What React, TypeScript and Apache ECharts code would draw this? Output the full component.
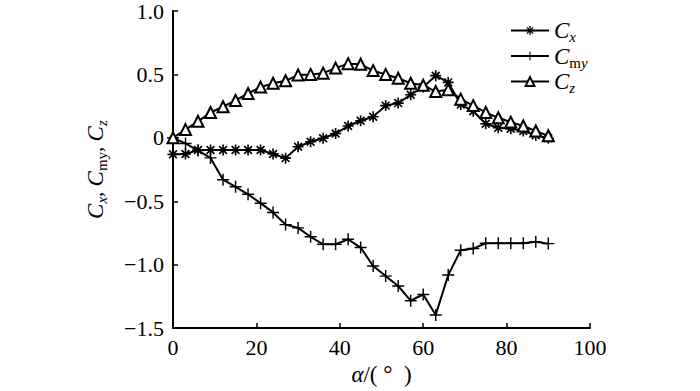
import React, { useEffect, useRef } from "react";
import * as echarts from "echarts";

const alpha = [0, 3, 6, 9, 12, 15, 18, 21, 24, 27, 30, 33, 36, 39, 42, 45, 48, 51, 54, 57, 60, 63, 66, 69, 72, 75, 78, 81, 84, 87, 90];
const cx = [-0.13, -0.127, -0.096, -0.096, -0.096, -0.096, -0.096, -0.096, -0.127, -0.16, -0.07, -0.031, -0.003, 0.034, 0.093, 0.135, 0.166, 0.254, 0.274, 0.34, 0.4, 0.49, 0.437, 0.262, 0.21, 0.111, 0.08, 0.072, 0.054, 0.021, -0.003];
const cmy = [0, -0.044, -0.1, -0.158, -0.33, -0.386, -0.445, -0.515, -0.588, -0.684, -0.71, -0.78, -0.839, -0.839, -0.8, -0.865, -1.01, -1.09, -1.168, -1.284, -1.235, -1.396, -1.082, -0.886, -0.873, -0.831, -0.831, -0.831, -0.831, -0.82, -0.834];
const cz = [0, 0.065, 0.13, 0.2, 0.245, 0.295, 0.35, 0.4, 0.43, 0.45, 0.495, 0.5, 0.51, 0.55, 0.585, 0.58, 0.53, 0.5, 0.47, 0.43, 0.415, 0.365, 0.38, 0.305, 0.254, 0.2, 0.158, 0.124, 0.093, 0.054, 0.016];
const seriesNames = ["Cx", "Cmy", "Cz"];
const xTicks = [0, 20, 40, 60, 80, 100];

const FONT = "'Liberation Serif', 'Times New Roman', serif";

const STAR =
  "path://M0,8.5 L20,8.5 L20,11.5 L0,11.5 Z M8.5,0 L11.5,0 L11.5,20 L8.5,20 Z " +
  "M3.99,1.87 L18.13,16.01 L16.01,18.13 L1.87,3.99 Z " +
  "M18.13,3.99 L3.99,18.13 L1.87,16.01 L16.01,1.87 Z";
const PLUS = "path://M8.8,0 L11.2,0 L11.2,8.8 L20,8.8 L20,11.2 L11.2,11.2 L11.2,20 L8.8,20 L8.8,11.2 L0,11.2 L0,8.8 L8.8,8.8 Z";

export default function App() {
  const ref = useRef<HTMLDivElement>(null);
  useEffect(() => {
    if (!ref.current) return;
    const chart = echarts.init(ref.current, null, { renderer: "svg" });
    const mk = (arr: number[]) => alpha.map((a, i) => [a, arr[i]]);
    const rich = {
      c: { fontFamily: FONT, fontStyle: "italic", fontSize: 23, color: "#000", lineHeight: 28 },
      si: { fontFamily: FONT, fontStyle: "italic", fontSize: 15, color: "#000", lineHeight: 14, verticalAlign: "bottom" },
      sr: { fontFamily: FONT, fontSize: 15, color: "#000", lineHeight: 14, verticalAlign: "bottom" },
      t: { fontFamily: FONT, fontSize: 21, color: "#000", lineHeight: 28 },
      a: { fontFamily: FONT, fontStyle: "italic", fontSize: 23, color: "#000" },
      n: { fontFamily: FONT, fontSize: 23, color: "#000" },
    };
    const legendLabel: Record<string, string> = {
      Cx: "{c|C}{si|x}",
      Cmy: "{c|C}{sr|m}{si|y}",
      Cz: "{c|C}{si|z}",
    };
    chart.setOption({
      animation: false,
      backgroundColor: "#fff",
      grid: { left: 173, right: 110, top: 8, bottom: 61, containLabel: false },
      legend: {
        orient: "vertical",
        left: 505,
        top: 14,
        itemWidth: 38,
        itemHeight: 11,
        itemGap: 0,
        data: seriesNames,
        formatter: (n: string) => legendLabel[n],
        textStyle: { rich, color: "#000" },
      },
      xAxis: {
        type: "value",
        min: 0,
        max: 100,
        interval: 20,
        name: "{a|α}{n|/( °  )}",
        nameLocation: "middle",
        nameGap: 34,
        nameTextStyle: { rich, color: "#000" },
        axisLine: { show: true, onZero: false, lineStyle: { color: "#000", width: 2 } },
        axisTick: { show: true, inside: true, length: 5, lineStyle: { color: "#000", width: 1.5 } },
        axisLabel: {
          fontFamily: FONT,
          fontSize: 22,
          color: "#000",
          margin: 8,
          customValues: xTicks,
          formatter: (v: number) => String(v),
        },
        splitLine: { show: false },
      },
      yAxis: {
        type: "value",
        min: -1.5,
        max: 1.0,
        interval: 0.5,
        name: "{c|C}{si|x}{t|, }{c|C}{sr|my}{t|, }{c|C}{si|z}",
        nameLocation: "middle",
        nameRotate: 90,
        nameGap: 64,
        nameTextStyle: { rich, color: "#000" },
        axisLine: { show: true, onZero: false, lineStyle: { color: "#000", width: 2 } },
        axisTick: { show: true, inside: true, length: 5, lineStyle: { color: "#000", width: 1.5 } },
        axisLabel: {
          fontFamily: FONT,
          fontSize: 22,
          color: "#000",
          margin: 9,
          formatter: (v: number) => (Math.abs(v) < 1e-9 ? "0" : v.toFixed(1).replace("-", "\u2212")),
        },
        splitLine: { show: false },
      },
      series: [
        {
          name: "Cx",
          type: "line",
          data: mk(cx),
          symbol: STAR,
          symbolSize: 11,
          showAllSymbol: true,
          lineStyle: { color: "#000", width: 2 },
          itemStyle: { color: "#000", borderWidth: 0 },
        },
        {
          name: "Cmy",
          type: "line",
          data: mk(cmy),
          symbol: PLUS,
          symbolSize: 12,
          showAllSymbol: true,
          lineStyle: { color: "#000", width: 2 },
          itemStyle: { color: "#000", borderWidth: 0 },
        },
        {
          name: "Cz",
          type: "line",
          data: mk(cz),
          symbol: "emptyTriangle",
          symbolSize: 11,
          showAllSymbol: true,
          lineStyle: { color: "#000", width: 2 },
          itemStyle: { color: "#000", borderColor: "#000", borderWidth: 1.5 },
        },
      ],
    });
    return () => chart.dispose();
  }, []);
  return (
    <div
      ref={ref}
      style={{ position: "fixed", left: 0, top: 0, width: 700, height: 391, background: "#fff" }}
    />
  );
}
